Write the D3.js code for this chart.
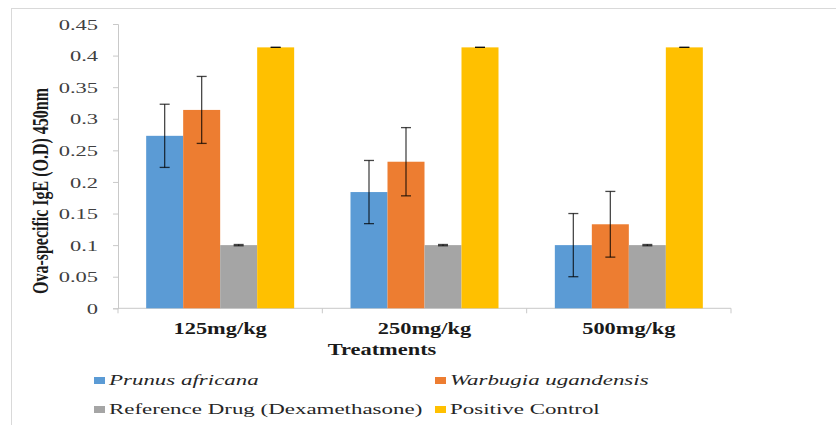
<!DOCTYPE html>
<html>
<head>
<meta charset="utf-8">
<script src="https://cdn.jsdelivr.net/npm/d3@7/dist/d3.min.js"></script>
<style>
  html, body { margin: 0; padding: 0; background: #fff; }
  svg { display: block; }
  svg text { font-family: "Liberation Serif", "DejaVu Serif", serif; }
</style>
</head>
<body>
<svg id="chart" width="836" height="425"></svg>
<script>
// Ova-specific IgE optical density per treatment dose
const categories = ["125mg/kg", "250mg/kg", "500mg/kg"];
const seriesNames = ["Prunus africana", "Warbugia ugandensis", "Reference Drug (Dexamethasone)", "Positive Control"];
const seriesItalic = [true, true, false, false];
const seriesColors = ["#5B9BD5", "#ED7D31", "#A5A5A5", "#FFC000"];

const prunusValues = [0.273, 0.184, 0.100];
const prunusErrors = [0.050, 0.050, 0.050];
const warbugiaValues = [0.314, 0.232, 0.133];
const warbugiaErrors = [0.053, 0.054, 0.052];
const dexamethasoneValues = [0.100, 0.100, 0.100];
const dexamethasoneErrors = [0.001, 0.001, 0.001];
const positiveValues = [0.413, 0.413, 0.413];
const positiveErrors = [0, 0, 0];

const yTickValues = [0, 0.05, 0.1, 0.15, 0.2, 0.25, 0.3, 0.35, 0.4, 0.45];
const yTitle = "Ova-specific IgE (O.D) 450nm";
const xTitle = "Treatments";

const seriesValues = [prunusValues, warbugiaValues, dexamethasoneValues, positiveValues];
const seriesErrors = [prunusErrors, warbugiaErrors, dexamethasoneErrors, positiveErrors];

const rows = categories.map((c, ci) => ({
  category: c,
  bars: seriesNames.map((s, si) => ({
    series: s, si,
    value: seriesValues[si][ci],
    error: seriesErrors[si][ci]
  }))
}));

// text in this chart is rendered wide
const SX_TICK = 1.5, SX_BOLD = 1.4, SX_LEG = 1.53;
const serif = '"Liberation Serif", "DejaVu Serif", serif';

const svg = d3.select("#chart");

// outer frame
svg.append("rect")
  .attr("x", 11.5).attr("y", 8.5)
  .attr("width", 900).attr("height", 500)
  .attr("fill", "none").attr("stroke", "#d9d9d9").attr("stroke-width", 1);

const plot = { left: 118, right: 731, top: 24, bottom: 308.3 };

const y = d3.scaleLinear().domain([0, 0.45]).range([plot.bottom, plot.top]);

const padInner = 0.2757;
const x = d3.scaleBand().domain(categories)
  .range([plot.left, plot.right])
  .paddingInner(padInner).paddingOuter(padInner / 2);
const xs = d3.scaleBand().domain(seriesNames).range([0, x.bandwidth()]).padding(0);

// y axis
const yAxis = svg.append("g")
  .attr("transform", `translate(${plot.left},0)`)
  .call(d3.axisLeft(y).tickValues(yTickValues).tickSize(5)
    .tickFormat(d => String(+d.toFixed(2))));
yAxis.attr("font-family", null).attr("font-size", null);
yAxis.select(".domain").attr("stroke", "#c9c9c9");
yAxis.selectAll(".tick line").attr("stroke", "#c9c9c9");
yAxis.selectAll(".tick text")
  .attr("x", -20 / SX_TICK)
  .attr("dy", "0.34em")
  .attr("transform", `scale(${SX_TICK},1)`)
  .style("font-family", serif)
  .style("font-size", "15px")
  .attr("fill", "#404040");

// x axis line and category boundary ticks
const xAxis = svg.append("g");
xAxis.append("line")
  .attr("x1", plot.left).attr("x2", plot.right)
  .attr("y1", plot.bottom).attr("y2", plot.bottom)
  .attr("stroke", "#c9c9c9");
xAxis.selectAll("line.bound")
  .data(d3.range(categories.length + 1))
  .join("line").attr("class", "bound")
  .attr("x1", i => plot.left + i * x.step())
  .attr("x2", i => plot.left + i * x.step())
  .attr("y1", plot.bottom).attr("y2", plot.bottom + 5)
  .attr("stroke", "#c9c9c9");

// category labels
svg.append("g").selectAll("g")
  .data(categories)
  .join("g")
  .attr("transform", d => `translate(${x(d) + x.bandwidth() / 2},334)`)
  .append("text")
  .attr("transform", `scale(${SX_BOLD},1)`)
  .attr("text-anchor", "middle")
  .style("font-family", serif)
  .style("font-weight", "bold")
  .style("font-size", "16px")
  .attr("fill", "#1a1a1a")
  .text(d => d);

// bars
const groups = svg.append("g").selectAll("g")
  .data(rows)
  .join("g")
  .attr("transform", d => `translate(${x(d.category)},0)`);

groups.selectAll("rect")
  .data(d => d.bars)
  .join("rect")
  .attr("x", d => xs(d.series))
  .attr("y", d => y(d.value))
  .attr("width", xs.bandwidth())
  .attr("height", d => y(0) - y(d.value))
  .attr("fill", d => seriesColors[d.si]);

// error bars
const capHalf = 5;
const eb = groups.selectAll("g.err")
  .data(d => d.bars)
  .join("g").attr("class", "err")
  .attr("stroke", "#000")
  .attr("stroke-opacity", 0.72)
  .attr("stroke-width", 1.3);
eb.append("line")
  .attr("x1", d => xs(d.series) + xs.bandwidth() / 2)
  .attr("x2", d => xs(d.series) + xs.bandwidth() / 2)
  .attr("y1", d => y(d.value + d.error))
  .attr("y2", d => y(d.value - d.error));
eb.append("line")
  .attr("x1", d => xs(d.series) + xs.bandwidth() / 2 - capHalf)
  .attr("x2", d => xs(d.series) + xs.bandwidth() / 2 + capHalf)
  .attr("y1", d => y(d.value + d.error))
  .attr("y2", d => y(d.value + d.error));
eb.append("line")
  .attr("x1", d => xs(d.series) + xs.bandwidth() / 2 - capHalf)
  .attr("x2", d => xs(d.series) + xs.bandwidth() / 2 + capHalf)
  .attr("y1", d => y(d.value - d.error))
  .attr("y2", d => y(d.value - d.error));

// axis titles
svg.append("g")
  .attr("transform", `translate(48,191) rotate(-90) scale(1,${SX_BOLD})`)
  .append("text")
  .attr("text-anchor", "middle")
  .style("font-family", serif)
  .style("font-weight", "bold")
  .style("font-size", "16px")
  .attr("fill", "#1a1a1a")
  .text(yTitle);

svg.append("g")
  .attr("transform", "translate(382,355)")
  .append("text")
  .attr("transform", `scale(${SX_BOLD},1)`)
  .attr("text-anchor", "middle")
  .style("font-family", serif)
  .style("font-weight", "bold")
  .style("font-size", "16px")
  .attr("fill", "#1a1a1a")
  .text(xTitle);

// legend: two columns, two rows
const legendCols = [94, 435];
const legendRows = [385, 414];
const legend = svg.append("g").selectAll("g")
  .data(seriesNames)
  .join("g")
  .attr("transform", (d, i) => `translate(${legendCols[i % 2]},${legendRows[Math.floor(i / 2)]})`);
legend.append("rect")
  .attr("x", 0).attr("y", -8)
  .attr("width", 11).attr("height", 7)
  .attr("fill", (d, i) => seriesColors[i]);
legend.append("text")
  .attr("transform", `translate(15,0) scale(${SX_LEG},1)`)
  .style("font-family", serif)
  .style("font-size", "15px")
  .style("font-style", (d, i) => seriesItalic[i] ? "italic" : "normal")
  .attr("fill", "#262626")
  .text(d => d);
</script>
</body>
</html>
